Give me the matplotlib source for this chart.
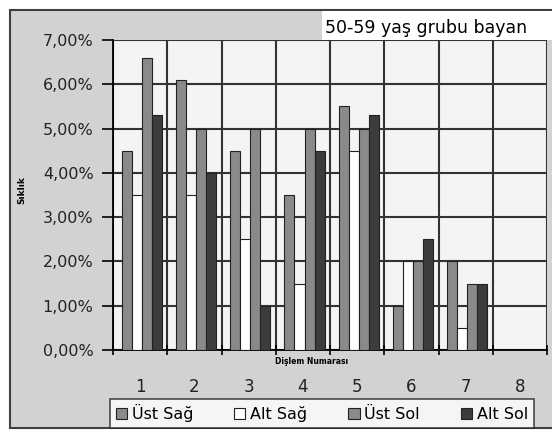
import numpy as np
import matplotlib
matplotlib.use("Agg")
import matplotlib.pyplot as plt
from matplotlib.patches import Rectangle
from matplotlib.ticker import FuncFormatter

plt.rcParams['font.family'] = ['DejaVu Sans']

# tooth numbers and frequency values (percent)
teeth = [1, 2, 3, 4, 5, 6, 7, 8]
ust_sag = [4.5, 6.1, 4.5, 3.5, 5.5, 1.0, 2.0, 0.0]
alt_sag = [3.5, 3.5, 2.5, 1.5, 4.5, 2.0, 0.5, 0.0]
ust_sol = [6.6, 5.0, 5.0, 5.0, 5.0, 2.0, 1.5, 0.0]
alt_sol = [5.3, 4.0, 1.0, 4.5, 5.3, 2.5, 1.5, 0.0]
series_names = ['Üst Sağ', 'Alt Sağ', 'Üst Sol', 'Alt Sol']
title = '50-59 yaş grubu bayan'

fig = plt.figure(figsize=(5.52, 4.32), dpi=100)
fig.patch.set_facecolor('white')

# background axes for the gray frame and the white title box
bg = fig.add_axes([0, 0, 1, 1], zorder=-1)
bg.set_xlim(0, 552)
bg.set_ylim(432, 0)
bg.axis('off')
bg.add_patch(Rectangle((10, 10), 545, 418, facecolor='#d2d2d2', edgecolor='#404040', lw=1.5))
bg.add_patch(Rectangle((322, 11), 232, 29, facecolor='white', edgecolor='none'))
bg.text(325, 28, title, fontsize=12.5, ha='left', va='center')
bg.text(312, 362, 'Dişlem Numarası', fontsize=5.5, fontweight='bold', ha='center', va='center')
bg.text(22, 190, 'Sıklık', fontsize=6.5, fontweight='bold', rotation=90,
        ha='center', va='center')

ax = fig.add_axes([113/552, 82/432, 434/552, 310/432], zorder=1)
ax.set_facecolor('#f4f4f4')

x = np.array(teeth, dtype=float)
w = 0.185
colors = ['#8a8a8a', 'white', '#8a8a8a', '#3c3c3c']
data = [ust_sag, alt_sag, ust_sol, alt_sol]
for i, (vals, c, name) in enumerate(zip(data, colors, series_names)):
    ax.bar(x + (i - 1.5) * w + 0.03, vals, width=w, color=c, edgecolor='#222222',
           linewidth=0.8, label=name, zorder=3)

ax.set_xlim(0.5, 8.5)
ax.set_ylim(0, 7)
ax.set_yticks(np.arange(0, 8, 1))
ax.yaxis.set_major_formatter(FuncFormatter(lambda v, p: f'{v:.2f}%'.replace('.', ',')))
ax.tick_params(axis='y', length=8, width=1.2, labelsize=11.5, pad=6, labelcolor='#222222')

ax.set_xticks(np.arange(0.5, 9.0, 1), minor=True)
ax.set_xticks(teeth)
ax.set_xticklabels([str(t) for t in teeth])
ax.tick_params(axis='x', which='major', length=0, labelsize=12, pad=20, labelcolor='#222222')
ax.tick_params(axis='x', which='minor', length=7, width=1.2, direction='inout')

ax.set_axisbelow(True)
ax.grid(axis='y', color='#333333', lw=1.5)
ax.grid(axis='x', which='minor', color='#333333', lw=1.5)
for s in ['top', 'right']:
    ax.spines[s].set_visible(False)
ax.spines['left'].set_linewidth(1.3)
ax.spines['bottom'].set_linewidth(1.3)

leg = fig.legend(loc='lower left', bbox_to_anchor=(110/552, 4/432, 424/552, 32/432),
                 mode='expand', ncol=4, frameon=True, fancybox=False, edgecolor='#222222',
                 fontsize=11.5, handlelength=0.7, handleheight=0.7, handletextpad=0.3,
                 borderpad=0.35, borderaxespad=0)
leg.get_frame().set_linewidth(1.2)

fig.savefig('out.png', dpi=100)
